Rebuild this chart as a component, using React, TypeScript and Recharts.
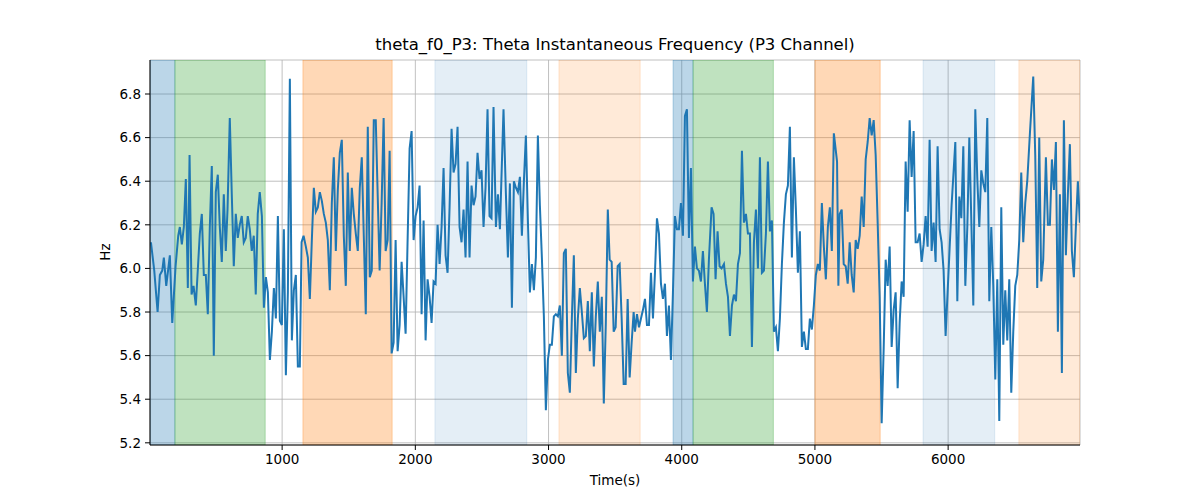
import React from "react";
import {
  LineChart,
  Line,
  XAxis,
  YAxis,
  CartesianGrid,
  ReferenceArea,
} from "recharts";

// sample times (s) and instantaneous frequency (Hz)
const times = [
  15, 40, 65, 82, 100, 112, 130, 157, 175, 200, 220, 232, 247, 262, 277, 292, 305, 320, 335, 352,
  382, 397, 412, 427, 442, 457, 472, 487, 502, 517, 532, 547, 562, 577, 590, 607, 622, 637, 652, 667,
  682, 697, 712, 727, 742, 757, 772, 787, 802, 817, 832, 848, 863, 878, 893, 908, 923, 938, 953, 968,
  983, 998, 1013, 1028, 1043, 1058, 1073, 1088, 1103, 1118, 1133, 1146, 1161, 1178, 1193, 1208, 1223, 1238, 1253, 1268,
  1283, 1298, 1313, 1328, 1343, 1358, 1373, 1388, 1403, 1418, 1433, 1448, 1463, 1478, 1493, 1508, 1523, 1538, 1553, 1568,
  1583, 1598, 1613, 1628, 1643, 1658, 1673, 1688, 1703, 1732, 1747, 1762, 1777, 1792, 1807, 1822, 1837, 1852, 1867, 1882,
  1897, 1912, 1927, 1942, 1957, 1972, 1987, 2002, 2017, 2032, 2047, 2062, 2077, 2092, 2107, 2122, 2137, 2152, 2167, 2182,
  2197, 2212, 2227, 2242, 2257, 2272, 2287, 2302, 2317, 2332, 2347, 2362, 2377, 2392, 2407, 2422, 2437, 2452, 2467, 2482,
  2497, 2512, 2527, 2542, 2557, 2572, 2587, 2605, 2620, 2635, 2662, 2680, 2695, 2710, 2725, 2740, 2755, 2770, 2785, 2800,
  2815, 2830, 2845, 2860, 2875, 2890, 2905, 2920, 2935, 2950, 2965, 2980, 2995, 3010, 3025, 3040, 3055, 3070, 3085, 3100,
  3115, 3130, 3145, 3160, 3175, 3190, 3205, 3220, 3235, 3250, 3265, 3280, 3295, 3310, 3325, 3340, 3355, 3370, 3385, 3400,
  3415, 3430, 3445, 3459, 3474, 3489, 3504, 3519, 3534, 3549, 3564, 3579, 3594, 3609, 3624, 3639, 3649, 3664, 3679, 3694,
  3709, 3724, 3739, 3754, 3769, 3784, 3799, 3814, 3829, 3844, 3859, 3874, 3889, 3904, 3919, 3934, 3949, 3964, 3979, 3994,
  4009, 4024, 4039, 4054, 4069, 4084, 4099, 4114, 4129, 4144, 4159, 4174, 4189, 4204, 4224, 4239, 4254, 4269, 4284, 4299,
  4317, 4332, 4347, 4362, 4377, 4392, 4407, 4422, 4437, 4452, 4467, 4482, 4497, 4512, 4527, 4542, 4557, 4572, 4587, 4602,
  4617, 4632, 4647, 4662, 4677, 4692, 4707, 4722, 4737, 4752, 4767, 4782, 4797, 4812, 4827, 4842, 4857, 4872, 4887, 4902,
  4917, 4932, 4947, 4962, 4977, 4992, 5007, 5022, 5037, 5052, 5067, 5082, 5097, 5112, 5127, 5142, 5166, 5176, 5186, 5201,
  5216, 5231, 5246, 5261, 5276, 5291, 5306, 5321, 5336, 5351, 5366, 5381, 5396, 5411, 5426, 5441, 5456, 5471, 5486, 5501,
  5516, 5531, 5546, 5561, 5576, 5591, 5606, 5621, 5636, 5651, 5666, 5681, 5696, 5711, 5726, 5741, 5756, 5771, 5786, 5801,
  5816, 5831, 5846, 5861, 5876, 5891, 5906, 5921, 5936, 5951, 5966, 5981, 5996, 6011, 6026, 6054, 6069, 6084, 6099, 6114,
  6129, 6144, 6159, 6174, 6189, 6204, 6219, 6234, 6249, 6264, 6279, 6294, 6309, 6324, 6339, 6354, 6369, 6384, 6399, 6414,
  6429, 6444, 6459, 6474, 6489, 6504, 6519, 6534, 6549, 6564, 6579, 6594, 6614, 6639, 6654, 6669, 6684, 6699, 6714, 6734,
  6749, 6764, 6779, 6794, 6809, 6824, 6839, 6854, 6869, 6884, 6899, 6914, 6929, 6944, 6959, 6974, 6989,
];

const hz = [
  6.12, 5.99, 5.8, 5.97, 5.99, 6.05, 5.92, 6.06, 5.75, 6.01, 6.15, 6.19, 6.11, 6.19, 6.41, 5.91, 6.52, 5.88, 5.92, 5.83,
  6.16, 6.25, 5.97, 5.97, 5.79, 6.19, 6.47, 5.6, 6.35, 6.43, 6.19, 6.03, 6.34, 6.08, 6.27, 6.69, 6.34, 6.01, 6.25, 6.14,
  6.2, 6.24, 6.12, 6.14, 6.24, 6.18, 6.08, 6.15, 5.88, 6.25, 6.35, 6.24, 5.82, 5.96, 5.89, 5.58, 5.71, 5.91, 5.77, 6.24,
  5.76, 5.74, 6.18, 5.51, 5.89, 6.87, 5.67, 5.9, 5.97, 5.55, 5.55, 6.12, 6.15, 6.1, 6.05, 5.86, 6.13, 6.37, 6.26, 6.28,
  6.35, 6.31, 6.25, 6.21, 6.13, 5.9, 6.3, 6.51, 6.08, 6.36, 6.53, 6.59, 6.15, 5.92, 6.44, 6.08, 6.37, 6.25, 6.16, 6.08,
  6.37, 6.51, 6.15, 5.79, 6.65, 5.96, 5.99, 6.68, 6.68, 5.99, 6.3, 6.69, 6.08, 6.13, 6.54, 5.61, 5.66, 6.13, 5.62, 5.74,
  6.03, 5.87, 5.7, 6.13, 6.55, 6.63, 6.13, 6.24, 6.28, 6.38, 5.79, 6.22, 5.67, 5.95, 5.87, 5.75, 5.94, 5.93, 6.2, 6.02,
  6.19, 6.46, 6.06, 5.98, 6.28, 6.64, 6.44, 6.48, 6.65, 6.19, 6.12, 6.27, 6.05, 6.49, 6.05, 6.38, 6.29, 6.33, 6.53, 6.41,
  6.45, 6.19, 6.37, 6.73, 6.24, 6.23, 6.74, 6.19, 6.34, 6.18, 6.73, 6.34, 6.05, 6.39, 5.82, 6.4, 6.37, 6.35, 6.42, 6.15,
  6.4, 6.61, 6.22, 5.89, 6.02, 5.9, 6.05, 6.61, 6.29, 6.05, 5.78, 5.35, 5.58, 5.65, 5.65, 5.78, 5.79, 5.78, 5.83, 5.6,
  6.07, 6.09, 5.52, 5.43, 5.77, 6.06, 5.52, 5.77, 5.91, 5.8, 5.68, 5.69, 5.85, 5.62, 5.89, 5.55, 5.78, 5.94, 5.71, 5.87,
  5.38, 5.75, 6.27, 6.04, 6.03, 5.71, 5.73, 6.01, 6.02, 5.77, 5.47, 5.47, 5.86, 5.5, 5.66, 5.8, 5.71, 5.79, 5.73, 5.77,
  5.81, 5.86, 5.74, 5.74, 5.98, 5.77, 5.98, 6.23, 6.16, 5.93, 5.86, 5.93, 5.69, 5.83, 5.58, 5.89, 6.24, 6.18, 6.18, 6.3,
  6.15, 6.7, 6.73, 6.14, 6.46, 5.94, 6.1, 6.0, 5.99, 5.94, 6.08, 5.93, 5.8, 6.04, 6.28, 6.25, 5.95, 6.17, 6.01, 6.0,
  6.02, 5.93, 5.87, 5.69, 5.83, 5.88, 5.85, 6.02, 6.07, 6.54, 6.21, 6.25, 6.16, 6.16, 5.64, 6.12, 6.27, 6.0, 6.51, 5.98,
  5.99, 6.16, 6.49, 6.17, 6.22, 5.71, 5.73, 5.62, 5.77, 6.02, 6.21, 6.34, 6.38, 6.65, 6.05, 6.51, 6.27, 5.98, 6.17, 5.64,
  5.71, 5.63, 5.63, 5.77, 5.72, 5.83, 5.97, 6.02, 5.99, 6.3, 6.1, 5.95, 6.19, 6.28, 6.08, 6.62, 6.49, 5.92, 6.25, 6.27,
  6.02, 6.01, 5.93, 6.12, 5.97, 5.89, 6.13, 6.09, 6.15, 6.33, 6.19, 6.5, 6.58, 6.69, 6.61, 6.68, 6.52, 6.21, 5.87, 5.29,
  5.63, 6.04, 5.92, 6.1, 5.64, 5.81, 5.89, 5.45, 5.75, 5.94, 5.87, 6.49, 6.26, 6.68, 6.42, 6.63, 6.12, 6.12, 6.16, 6.03,
  6.11, 6.24, 6.1, 6.59, 6.08, 6.21, 6.03, 6.56, 6.18, 6.12, 5.99, 5.69, 5.89, 6.09, 6.29, 6.58, 5.85, 6.33, 6.23, 6.56,
  5.92, 6.19, 6.6, 6.22, 5.83, 6.73, 6.41, 6.19, 6.45, 6.39, 6.35, 6.69, 5.85, 6.19, 5.92, 5.49, 5.95, 5.3, 6.28, 5.65,
  5.9, 5.67, 5.95, 5.43, 5.71, 5.92, 5.97, 6.13, 6.44, 6.12, 6.3, 6.4, 6.62, 6.88, 6.52, 5.91, 6.6, 5.94, 6.04, 6.51,
  6.2, 6.2, 6.5, 6.36, 6.58, 5.71, 6.34, 5.52, 6.68, 6.06, 6.34, 6.57, 6.08, 5.96, 6.19, 6.4, 6.21,
];

// shaded stage intervals (s)
const spanStarts = [8, 195, 1156, 2147, 3078, 3935, 4085, 5000, 5812, 6531];
const spanEnds = [195, 873, 1826, 2837, 3688, 4085, 4688, 5490, 6350, 6990];
const spanColors = [
  "#1f77b4", "#2ca02c", "#ff7f0e", "#1f77b4", "#ff7f0e",
  "#1f77b4", "#2ca02c", "#ff7f0e", "#1f77b4", "#ff7f0e",
];
const spanOpacity = [0.3, 0.3, 0.3, 0.12, 0.16, 0.3, 0.3, 0.3, 0.12, 0.16];

const xTicks = [1000, 2000, 3000, 4000, 5000, 6000];
const yTicks = [5.2, 5.4, 5.6, 5.8, 6.0, 6.2, 6.4, 6.6, 6.8];

const X_DOMAIN: [number, number] = [8, 6990];
const Y_DOMAIN: [number, number] = [5.19, 6.956];

const font = "'DejaVu Sans', sans-serif";

export default function App() {
  const data = times.map((t, i) => ({ t, hz: hz[i] }));
  const tick = { fill: "#000", fontSize: 13.5, fontFamily: font };

  return (
    <div
      style={{
        position: "absolute",
        left: 0,
        top: 0,
        width: 1200,
        height: 500,
        background: "#fff",
        fontFamily: font,
      }}
    >
      <div
        style={{
          position: "absolute",
          top: 35,
          left: 150,
          width: 930,
          textAlign: "center",
          fontSize: 16.5,
          color: "#000",
        }}
      >
        theta_f0_P3: Theta Instantaneous Frequency (P3 Channel)
      </div>
      <div
        style={{
          position: "absolute",
          top: 472,
          left: 150,
          width: 930,
          textAlign: "center",
          fontSize: 13.5,
          color: "#000",
        }}
      >
        Time(s)
      </div>
      <div
        style={{
          position: "absolute",
          left: 105,
          top: 252,
          transform: "translate(-50%, -50%) rotate(-90deg)",
          fontSize: 13.5,
          color: "#000",
        }}
      >
        Hz
      </div>
      <LineChart
        width={1200}
        height={500}
        data={data}
        margin={{ top: 60, right: 120, bottom: 25, left: 0 }}
      >
        <CartesianGrid stroke="#b0b0b0" strokeWidth={0.8} />
        {spanStarts.map((s, i) => (
          <ReferenceArea
            key={i}
            x1={s}
            x2={spanEnds[i]}
            fill={spanColors[i]}
            fillOpacity={spanOpacity[i]}
            stroke={spanColors[i]}
            strokeOpacity={spanOpacity[i]}
            ifOverflow="hidden"
          />
        ))}
        <XAxis
          dataKey="t"
          type="number"
          domain={X_DOMAIN}
          ticks={xTicks}
          allowDataOverflow
          height={30}
          tick={tick}
          tickSize={5}
          tickMargin={4}
          stroke="#000"
        />
        <XAxis
          xAxisId="top"
          orientation="top"
          type="number"
          domain={X_DOMAIN}
          height={0}
          tick={false}
          tickLine={false}
          stroke="#000"
        />
        <YAxis
          type="number"
          domain={Y_DOMAIN}
          ticks={yTicks}
          allowDataOverflow
          width={150}
          tick={tick}
          tickSize={5}
          tickMargin={4}
          tickFormatter={(v: number) => v.toFixed(1)}
          stroke="#000"
        />
        <YAxis
          yAxisId="right"
          orientation="right"
          type="number"
          domain={Y_DOMAIN}
          width={0}
          tick={false}
          tickLine={false}
          stroke="#000"
        />
        <Line
          type="linear"
          dataKey="hz"
          stroke="#1f77b4"
          strokeWidth={2}
          dot={false}
          isAnimationActive={false}
        />
      </LineChart>
    </div>
  );
}
